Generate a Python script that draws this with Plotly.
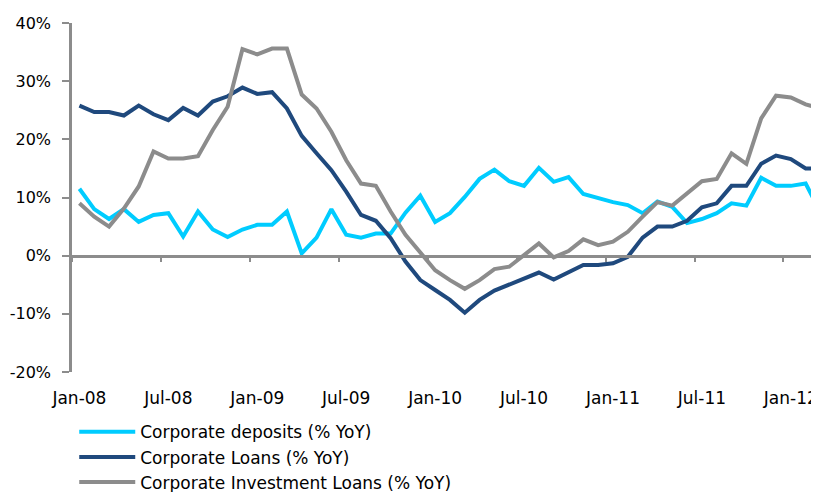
import plotly.graph_objects as go

months = [f"{m}-{y:02d}" for y in range(8, 13)
          for m in ["Jan", "Feb", "Mar", "Apr", "May", "Jun",
                    "Jul", "Aug", "Sep", "Oct", "Nov", "Dec"]][:51]

deposits = [11.5, 8.0, 6.3, 8.0, 5.8, 7.0, 7.3, 3.3, 7.6, 4.5, 3.2, 4.5, 5.3,
            5.3, 7.6, 0.4, 3.1, 8.0, 3.6, 3.1, 3.8, 3.8, 7.4, 10.3, 5.8,
            7.3, 10.1, 13.2, 14.8, 12.8, 12.0, 15.1, 12.7, 13.5, 10.6, 9.9, 9.2, 8.7,
            7.3, 9.3, 8.4, 5.6, 6.3, 7.3, 9.0, 8.6, 13.4, 12.0, 12.0, 12.4, 7.5]

loans = [25.8, 24.7, 24.7, 24.1, 25.8, 24.3, 23.3, 25.4, 24.1, 26.5, 27.4, 28.9, 27.8,
         28.1, 25.3, 20.6, 17.6, 14.7, 11.0, 7.0, 6.0, 3.0, -1.0, -4.2, -5.9,
         -7.6, -9.8, -7.6, -6.0, -5.0, -3.9, -2.9, -4.1, -2.9, -1.6, -1.6, -1.3, -0.2,
         3.1, 5.0, 5.0, 6.0, 8.3, 9.0, 12.0, 12.0, 15.8, 17.2, 16.6, 15.0, 15.0]

inv_loans = [9.0, 6.7, 5.0, 8.1, 11.9, 17.9, 16.7, 16.7, 17.1, 21.6, 25.6, 35.5, 34.6,
             35.6, 35.6, 27.7, 25.3, 21.3, 16.4, 12.4, 12.0, 7.6, 3.6, 0.6, -2.5,
             -4.2, -5.7, -4.2, -2.3, -1.9, 0.1, 2.1, -0.3, 0.8, 2.8, 1.8, 2.4, 4.1,
             6.7, 9.2, 8.6, 10.8, 12.8, 13.2, 17.6, 15.8, 23.6, 27.5, 27.2, 26.0, 25.3]

names = ["Corporate deposits (% YoY)", "Corporate Loans (% YoY)",
         "Corporate Investment Loans (% YoY)"]
colors = ["#00CCFF", "#1F497D", "#8C8C8C"]

x = list(range(len(months)))
label_idx = list(range(0, len(months), 6))

fig = go.Figure()
for vals, name, col in zip([deposits, loans, inv_loans], names, colors):
    fig.add_trace(go.Scatter(x=x, y=vals, name=name, mode="lines",
                             line=dict(color=col, width=4)))

# page body adds an 8px offset, so figure is 8px smaller than the window
font = "DejaVu Sans"
fig.update_layout(
    width=811, height=484,
    margin=dict(l=64, r=0, t=15, b=120, autoexpand=False),
    plot_bgcolor="white", paper_bgcolor="white",
    font=dict(family=font, size=17, color="#000000"),
    showlegend=True,
    legend=dict(x=0.003, y=-0.121, xanchor="left", yanchor="top",
                font=dict(size=17), tracegroupgap=0, itemwidth=56,
                bgcolor="rgba(0,0,0,0)"),
    xaxis=dict(range=[-0.5, 49.9], tickvals=label_idx,
               ticktext=[months[i] for i in label_idx],
               showgrid=False, zeroline=False, showline=False, ticks="",
               automargin=False,
               ticklabelstandoff=14, tickfont=dict(size=17)),
    xaxis2=dict(range=[-0.5, 49.9], overlaying="x", anchor="free", position=1/3,
                tickvals=[i - 0.5 for i in label_idx] + [53.5],
                showticklabels=False, showgrid=False, zeroline=False,
                showline=True, linecolor="#8C8C8C", linewidth=2.5,
                automargin=False,
                ticks="outside", ticklen=5, tickwidth=2, tickcolor="#8C8C8C"),
    yaxis=dict(range=[-20, 40], tickvals=[-20, -10, 0, 10, 20, 30, 40],
               ticktext=["-20%", "-10%", "0%", "10%", "20%", "30%", "40%"],
               showgrid=False, zeroline=False, showline=True,
               linecolor="#8C8C8C", linewidth=2.5, automargin=False,
               ticks="outside", ticklen=7, tickwidth=2, tickcolor="#8C8C8C",
               ticklabelstandoff=8, tickfont=dict(size=16)),
)
# invisible trace so xaxis2 is drawn
fig.add_trace(go.Scatter(x=[0], y=[0], xaxis="x2", mode="lines",
                         showlegend=False, hoverinfo="skip",
                         line=dict(width=0)))

fig.write_html("out.html")
